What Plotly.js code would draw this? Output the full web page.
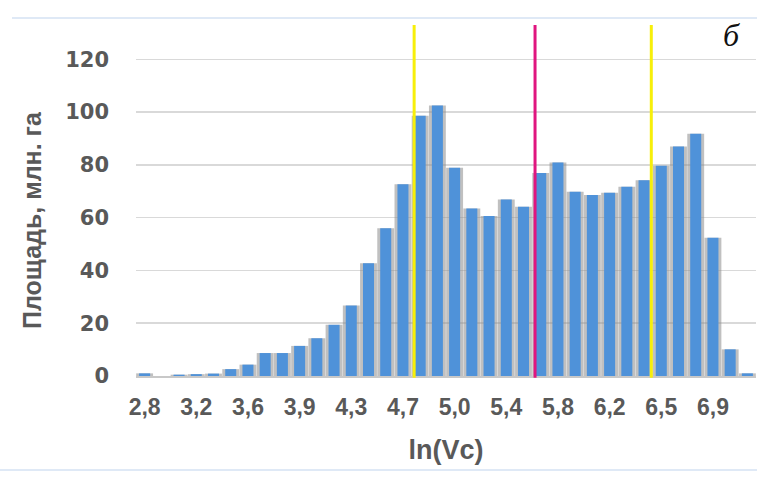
<!DOCTYPE html>
<html>
<head>
<meta charset="utf-8">
<script src="https://cdn.plot.ly/plotly-3.0.1.min.js"></script>
<style>html,body{margin:0;padding:0;background:#fff;}#chart{width:757px;height:486px;}</style>
</head>
<body>
<div id="chart"></div>
<script>
// Data (area, mln ha, per ln(Vc) bin)
var binIndex = [0,1,2,3,4,5,6,7,8,9,10,11,12,13,14,15,16,17,18,19,20,21,22,23,24,25,26,27,28,29,30,31,32,33,34,35];
var areaValues = [1,0,0.5,0.7,0.9,2.6,4.3,8.7,8.7,11.4,14.3,19.4,26.7,42.7,56,72.7,98.6,102.5,78.9,63.5,60.6,66.9,64.1,76.9,80.9,69.8,68.6,69.4,71.7,74.2,79.7,87,91.8,52.4,10.1,1.0];
var tickPositions = [0,3,6,9,12,15,18,21,24,27,30,33];
var tickLabels = ["2,8","3,2","3,6","3,9","4,3","4,7","5,0","5,4","5,8","6,2","6,5","6,9"];
var yTicks = [0,20,40,60,80,100,120];
var yTitle = 'Площадь, млн. га';
var xTitle = 'ln(Vc)';
// vertical marker lines (bin-index positions) and colours
var markerPositions = [15.65, 22.67, 29.42];
var markerColors = ["#f7ef0a", "#e0157f", "#f7ef0a"];

var shadow = {
  type: 'bar', x: binIndex, y: areaValues, width: 0.98,
  marker: {color: 'rgba(140,140,140,0.55)', line: {width: 0}},
  hoverinfo: 'skip', showlegend: false
};
var bars = {
  type: 'bar', x: binIndex, y: areaValues, width: 0.64,
  marker: {color: '#4f92d9', line: {width: 0}},
  showlegend: false
};

var shapes = markerPositions.map(function(p, i){
  return {type: 'line', xref: 'x', yref: 'paper', x0: p, x1: p, y0: -0.005, y1: 1,
          line: {color: markerColors[i], width: 3}};
});
// light frame lines from the screenshot edges
shapes.push({type:'line', xref:'paper', yref:'paper', x0:-0.2, x1:1.01, y0:1.02, y1:1.02, line:{color:'#dfe9f6', width:2}});
shapes.push({type:'line', xref:'paper', yref:'paper', x0:-0.22, x1:1.01, y0:-0.268, y1:-0.268, line:{color:'#dfe9f6', width:2}});

var layout = {
  width: 757, height: 486,
  margin: {l: 136, r: 1, t: 25, b: 110},
  paper_bgcolor: '#ffffff', plot_bgcolor: '#ffffff',
  barmode: 'overlay',
  showlegend: false,
  xaxis: {
    range: [-0.5, 35.5],
    tickmode: 'array', tickvals: tickPositions, ticktext: tickLabels,
    tickfont: {family: 'Liberation Sans, Arial, sans-serif', size: 23, color: '#595959', weight: 'bold'},
    showgrid: false, zeroline: false,
    showline: true, linecolor: '#c8c8c8', linewidth: 2,
    ticks: '', ticklabelstandoff: 9,
    title: {text: xTitle, font: {family: 'Liberation Sans, Arial, sans-serif', size: 27, color: '#595959', weight: 'bold'}, standoff: 22}
  },
  yaxis: {
    range: [0, 133],
    tickmode: 'array', tickvals: yTicks,
    tickfont: {family: 'DejaVu Sans, Verdana, sans-serif', size: 21, color: '#595959', weight: 'bold'},
    showgrid: true, gridcolor: '#d9d9d9', gridwidth: 1.5,
    zeroline: false, showline: false, ticks: '', ticklabelstandoff: 26
  },
  shapes: shapes,
  annotations: [{
    xref: 'paper', yref: 'paper', x: 0.977, y: 0.972, xanchor: 'right', yanchor: 'middle',
    text: 'б', showarrow: false,
    font: {family: 'Liberation Serif, serif', size: 32, color: '#111111', style: 'italic'}
  }, {
    xref: 'paper', yref: 'paper', x: -0.168, y: 0.444, xanchor: 'center', yanchor: 'middle',
    text: yTitle, textangle: -90, showarrow: false,
    font: {family: 'Liberation Sans, Arial, sans-serif', size: 25, color: '#595959', weight: 'bold'}
  }]
};

Plotly.newPlot('chart', [shadow, bars], layout, {staticPlot: true, displayModeBar: false});
</script>
</body>
</html>
